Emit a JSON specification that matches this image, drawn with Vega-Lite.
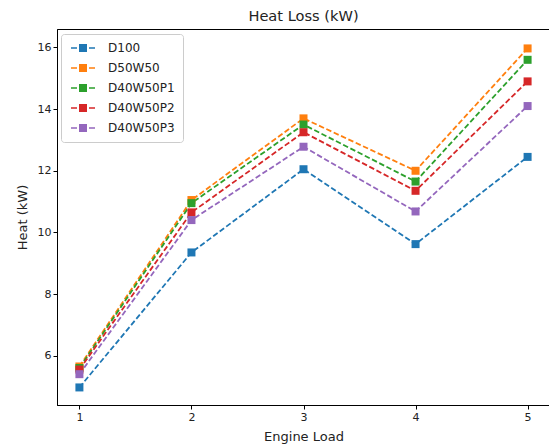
{
  "$schema": "https://vega.github.io/schema/vega-lite/v6.json",
  "width": 493,
  "height": 376,
  "autosize": {"type": "none"},
  "padding": {"left": 57, "top": 29, "right": 0, "bottom": 40},
  "background": "white",
  "title": {"text": "Heat Loss (kW)", "font": "DejaVu Sans", "fontSize": 14.6, "fontWeight": "normal", "color": "#222", "anchor": "middle", "offset": 5},
  "config": {
    "view": {"stroke": "#000", "strokeWidth": 1},
    "axis": {"labelFont": "DejaVu Sans", "titleFont": "DejaVu Sans", "labelFontSize": 11, "titleFontSize": 13, "titleFontWeight": "normal", "labelColor": "#222", "titleColor": "#222", "domainColor": "#000", "tickColor": "#000", "tickSize": 4, "grid": false}
  },
  "data": {"values": [
    {"load": 1, "series": "D100", "o": 0, "heat": 4.97},
    {"load": 2, "series": "D100", "o": 0, "heat": 9.35},
    {"load": 3, "series": "D100", "o": 0, "heat": 12.05},
    {"load": 4, "series": "D100", "o": 0, "heat": 9.62},
    {"load": 5, "series": "D100", "o": 0, "heat": 12.45},
    {"load": 1, "series": "D50W50", "o": 1, "heat": 5.65},
    {"load": 2, "series": "D50W50", "o": 1, "heat": 11.05},
    {"load": 3, "series": "D50W50", "o": 1, "heat": 13.7},
    {"load": 4, "series": "D50W50", "o": 1, "heat": 12.0},
    {"load": 5, "series": "D50W50", "o": 1, "heat": 15.97},
    {"load": 1, "series": "D40W50P1", "o": 2, "heat": 5.6},
    {"load": 2, "series": "D40W50P1", "o": 2, "heat": 10.95},
    {"load": 3, "series": "D40W50P1", "o": 2, "heat": 13.5},
    {"load": 4, "series": "D40W50P1", "o": 2, "heat": 11.65},
    {"load": 5, "series": "D40W50P1", "o": 2, "heat": 15.6},
    {"load": 1, "series": "D40W50P2", "o": 3, "heat": 5.55},
    {"load": 2, "series": "D40W50P2", "o": 3, "heat": 10.65},
    {"load": 3, "series": "D40W50P2", "o": 3, "heat": 13.25},
    {"load": 4, "series": "D40W50P2", "o": 3, "heat": 11.35},
    {"load": 5, "series": "D40W50P2", "o": 3, "heat": 14.9},
    {"load": 1, "series": "D40W50P3", "o": 4, "heat": 5.4},
    {"load": 2, "series": "D40W50P3", "o": 4, "heat": 10.4},
    {"load": 3, "series": "D40W50P3", "o": 4, "heat": 12.78},
    {"load": 4, "series": "D40W50P3", "o": 4, "heat": 10.68},
    {"load": 5, "series": "D40W50P3", "o": 4, "heat": 14.1}
  ]},
  "encoding": {
    "x": {"field": "load", "type": "quantitative", "title": "Engine Load", "scale": {"domain": [0.8, 5.2], "nice": false, "zero": false}, "axis": {"values": [1, 2, 3, 4, 5], "format": "d", "titlePadding": 8}},
    "y": {"field": "heat", "type": "quantitative", "title": "Heat (kW)", "scale": {"domain": [4.4, 16.6], "nice": false, "zero": false}, "axis": {"values": [6, 8, 10, 12, 14, 16], "titlePadding": 8}},
    "color": {"field": "series", "type": "nominal", "sort": ["D100", "D50W50", "D40W50P1", "D40W50P2", "D40W50P3"],
      "scale": {"domain": ["D100", "D50W50", "D40W50P1", "D40W50P2", "D40W50P3"], "range": ["#1f77b4", "#ff7f0e", "#2ca02c", "#d62728", "#9467bd"]}}
  },
  "layer": [
    {"mark": {"type": "line", "strokeDash": [5.5, 2.6], "strokeWidth": 1.8},
     "encoding": {"detail": {"field": "series"}, "order": {"field": "load"}, "zindex": {"field": "o"}}},
    {"mark": {"type": "point", "shape": "square", "filled": true, "size": 64, "opacity": 1},
     "encoding": {"color": {"field": "series", "type": "nominal", "sort": ["D100", "D50W50", "D40W50P1", "D40W50P2", "D40W50P3"],
       "legend": {"title": null, "orient": "none", "legendX": 4, "legendY": 5, "padding": 8, "strokeColor": "#cccccc", "fillColor": "white", "cornerRadius": 3,
         "labelFont": "DejaVu Sans", "labelFontSize": 12, "labelColor": "#222", "labelOffset": 19, "rowPadding": 8, "symbolOffset": 8,
         "symbolType": "M-2.4,-0.16H-1.2V0.16H-2.4Z M-0.8,-0.8H0.8V0.8H-0.8Z M1.2,-0.16H2.4V0.16H1.2Z", "symbolSize": 100, "symbolStrokeWidth": 0, "symbolOpacity": 1}}}}
  ]
}
